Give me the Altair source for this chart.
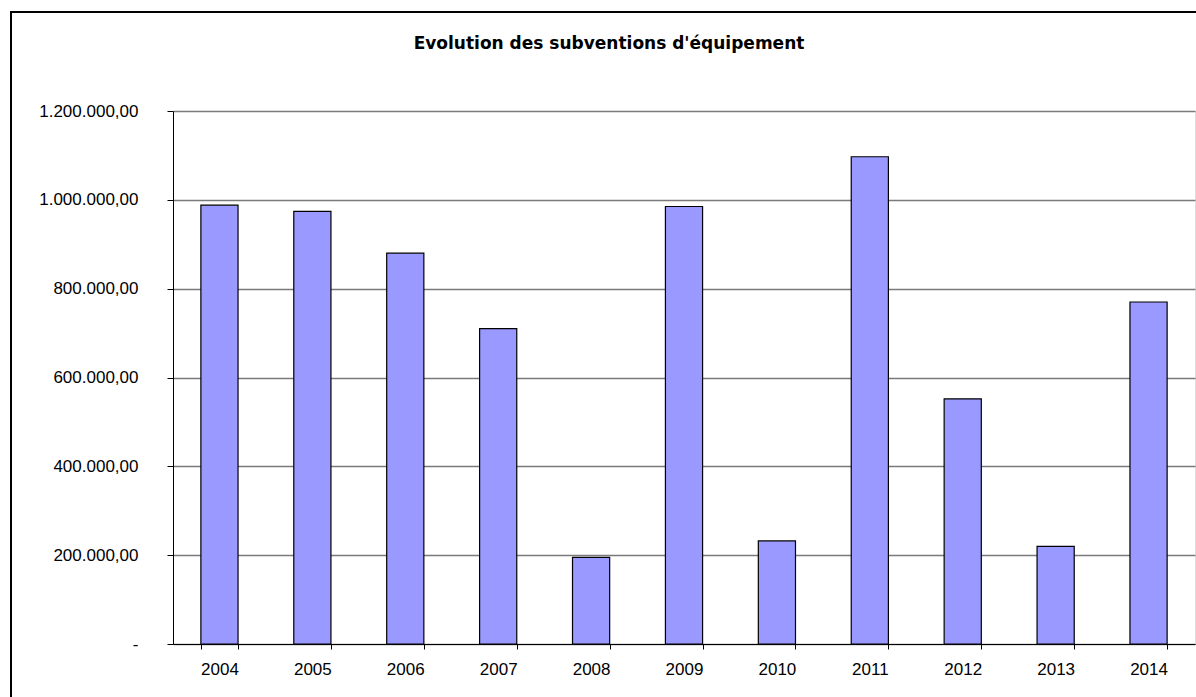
import altair as alt
import pandas as pd

years = ["2004", "2005", "2006", "2007", "2008", "2009", "2010", "2011", "2012", "2013", "2014"]
values = [988000, 974000, 880000, 710000, 195000, 985000, 232000, 1097000, 552000, 220000, 770000]
y_ticks = [0, 200000, 400000, 600000, 800000, 1000000, 1200000]
title_text = "Evolution des subventions d'équipement"

df = pd.DataFrame({"year": years, "value": values})

FONT = "Liberation Sans"

bars = alt.Chart(df).mark_bar(
    color="#9999FF", stroke="#000000", strokeWidth=1.2
).encode(
    x=alt.X(
        "year:N",
        title=None,
        sort=years,
        scale=alt.Scale(paddingInner=0.6, paddingOuter=0.3),
        axis=alt.Axis(
            labelAngle=0, tickBand="extent", tickSize=5, tickColor="#000000",
            domainColor="#000000", labelPadding=12, labelFontSize=17,
            labelFont=FONT, labelColor="#000000", grid=False,
        ),
    ),
    y=alt.Y(
        "value:Q",
        title=None,
        scale=alt.Scale(domain=[0, 1200000], nice=False),
        axis=alt.Axis(
            values=y_ticks, format=",.2f",
            labelExpr="datum.value == 0 ? '-' : datum.label",
            tickSize=6, tickColor="#000000", domainColor="#000000",
            labelPadding=29, labelFontSize=17, labelFont=FONT,
            labelColor="#000000", grid=True, gridColor="#7a7a7a", gridWidth=1.3,
        ),
    ),
)

border = alt.Chart(pd.DataFrame({"d": [0]})).mark_rect(
    fill=None, stroke="#000000", strokeWidth=2, clip=False
).encode(
    x=alt.value(-162), x2=alt.value(1030), y=alt.value(-99), y2=alt.value(600)
)

title = alt.Chart(pd.DataFrame({"t": [title_text]})).mark_text(
    font="DejaVu Sans", fontSize=17, fontWeight="bold", color="#000000",
    baseline="middle", align="center",
).encode(text="t:N", x=alt.value(436), y=alt.value(-67))

chart = alt.layer(border, bars, title).properties(
    width=1022, height=533,
    padding={"left": 173, "top": 111, "right": 1, "bottom": 53},
    autosize=alt.AutoSizeParams(type="none"),
    background="#FFFFFF",
).configure_view(stroke=None).configure(
    locale=alt.Locale(number=alt.NumberLocale(decimal=",", thousands=".", grouping=[3], currency=["", " €"]))
)

chart.save("out.html", embed_options={"renderer": "svg", "actions": False})
